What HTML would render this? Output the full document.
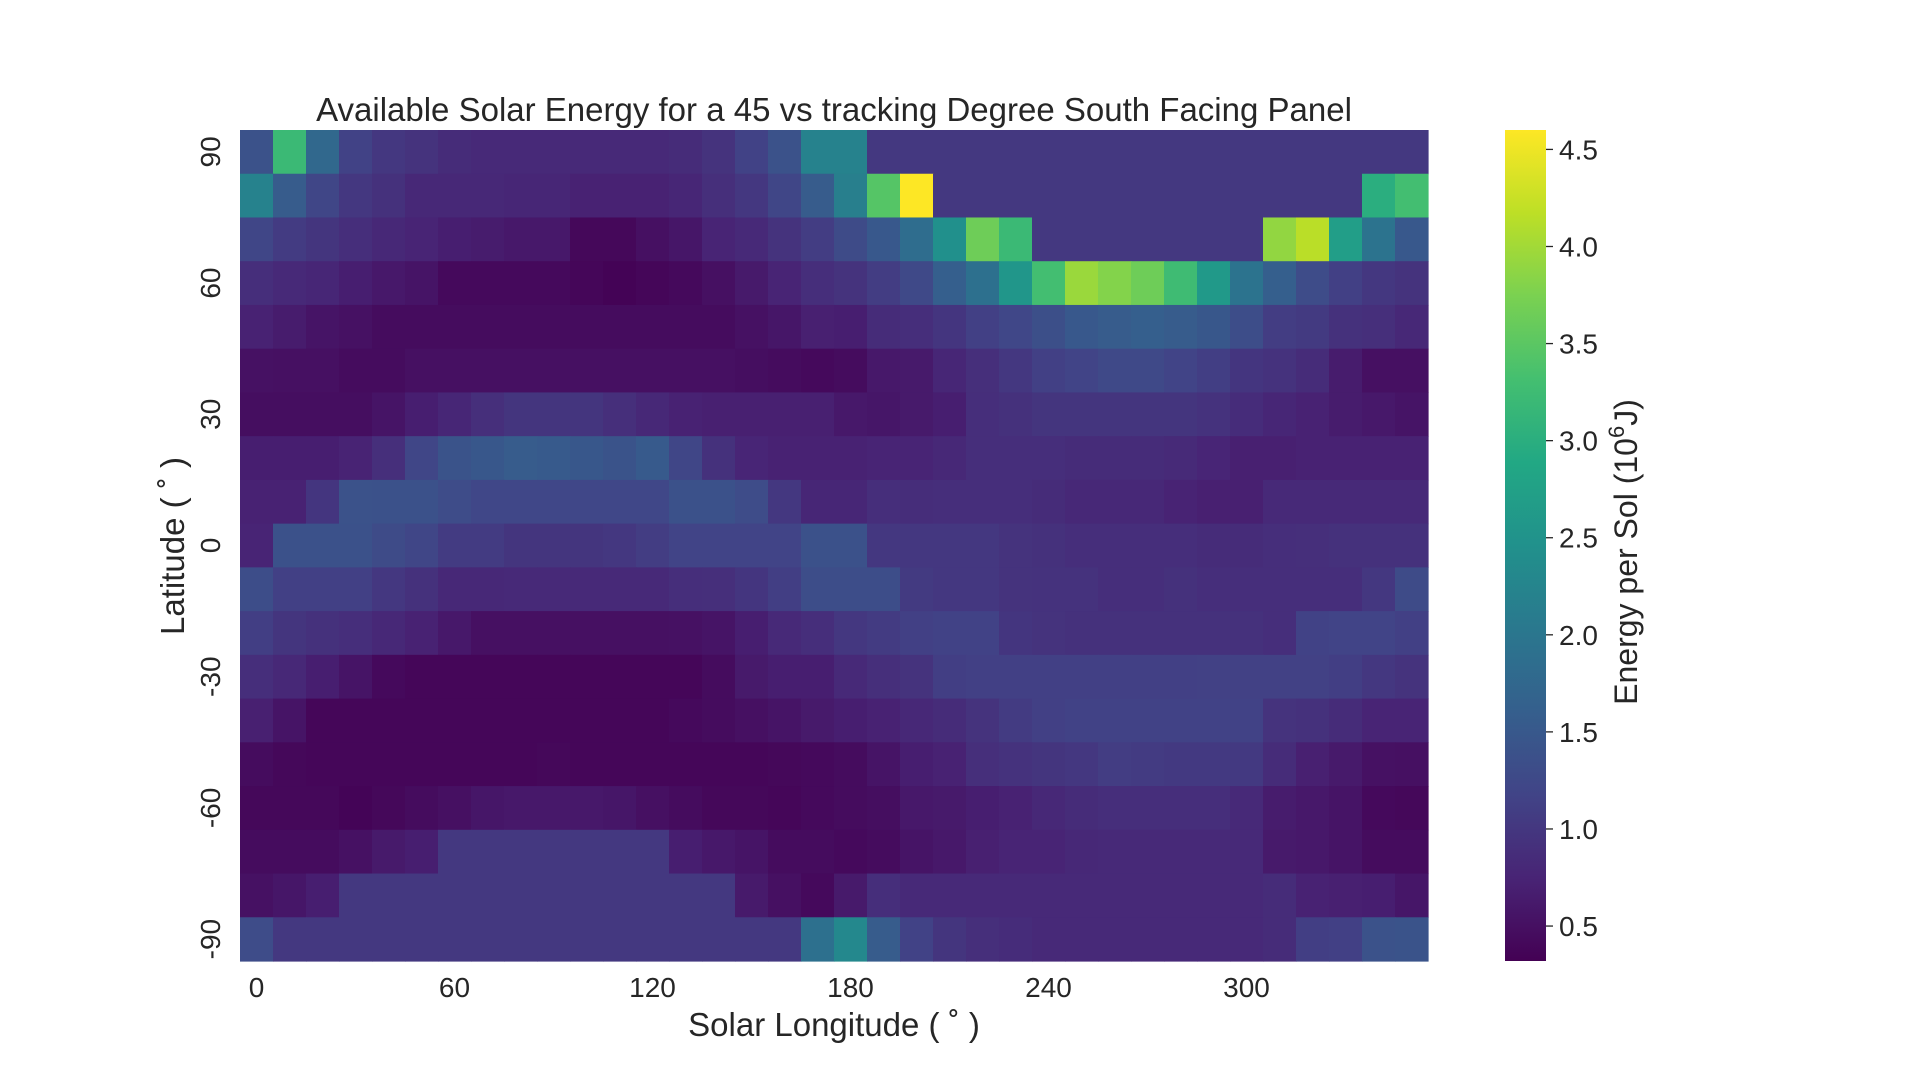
<!DOCTYPE html>
<html><head><meta charset="utf-8"><style>
html,body{margin:0;padding:0;background:#fff;}
svg{display:block;font-family:"Liberation Sans",Arial,sans-serif;}
</style></head><body>
<svg id="chart" width="1920" height="1080" viewBox="0 0 1920 1080" xmlns="http://www.w3.org/2000/svg">
<rect width="1920" height="1080" fill="#fff"/>
<text x="834" y="121" font-size="33" text-anchor="middle" fill="#262626">Available Solar Energy for a 45 vs tracking Degree South Facing Panel</text>
<g id="cells"></g>
<g id="xticks"></g>
<g id="yticks"></g>
<text x="834" y="1036" font-size="33" text-anchor="middle" fill="#262626">Solar Longitude ( ˚ )</text>
<text transform="translate(184,546) rotate(-90)" font-size="33" text-anchor="middle" fill="#262626">Latitude ( ˚ )</text>
<defs><linearGradient id="vir" x1="0" y1="1" x2="0" y2="0"></linearGradient></defs>
<rect id="cbar" x="1505" y="130" width="41" height="831" fill="url(#vir)"/>
<g id="cticks"></g>
<text transform="translate(1637,552) rotate(-90)" font-size="32" text-anchor="middle" fill="#262626">Energy per Sol (10<tspan dy="-13" font-size="22">6</tspan><tspan dy="13">J)</tspan></text>
</svg>
<script>
const longitudes = [0,10,20,30,40,50,60,70,80,90,100,110,120,130,140,150,160,170,180,190,200,210,220,230,240,250,260,270,280,290,300,310,320,330,340,350];
const latitudes = [90,80,70,60,50,40,30,20,10,0,-10,-20,-30,-40,-50,-60,-70,-80,-90];
const xTickLabels = [0,60,120,180,240,300];
const yTickLabels = [90,60,30,0,-30,-60,-90];
const colorbarTicks = [0.5,1.0,1.5,2.0,2.5,3.0,3.5,4.0,4.5];
const row90 = [1.4,3.2,1.75,1.15,1.0,0.95,0.85,0.82,0.82,0.82,0.82,0.82,0.82,0.85,0.95,1.15,1.4,2.2,2.2,1.02,1.02,1.02,1.02,1.02,1.02,1.02,1.02,1.02,1.02,1.02,1.02,1.02,1.02,1.02,1.02,1.02];
const row80 = [2.2,1.55,1.2,1.0,0.92,0.8,0.8,0.8,0.78,0.78,0.72,0.72,0.72,0.78,0.9,1.0,1.2,1.55,2.15,3.45,4.6,1.02,1.02,1.02,1.02,1.02,1.02,1.02,1.02,1.02,1.02,1.02,1.02,1.02,3.0,3.3];
const row70 = [1.2,1.05,0.97,0.88,0.8,0.75,0.68,0.65,0.6,0.6,0.4,0.4,0.5,0.58,0.75,0.82,0.95,1.08,1.28,1.5,1.85,2.45,3.65,3.2,1.02,1.02,1.02,1.02,1.02,1.02,1.02,3.9,4.15,2.7,1.95,1.5];
const row60 = [0.88,0.82,0.78,0.68,0.6,0.55,0.42,0.42,0.42,0.42,0.38,0.35,0.38,0.42,0.5,0.62,0.75,0.88,0.95,1.08,1.25,1.6,1.9,2.55,3.3,3.95,3.8,3.65,3.25,2.6,1.95,1.6,1.3,1.12,1.0,0.95];
const row50 = [0.72,0.65,0.55,0.52,0.45,0.45,0.45,0.45,0.45,0.45,0.45,0.45,0.45,0.45,0.45,0.52,0.58,0.7,0.68,0.85,0.88,0.98,1.12,1.22,1.35,1.5,1.55,1.6,1.55,1.48,1.32,1.08,1.04,0.92,0.9,0.8];
const row40 = [0.52,0.5,0.5,0.45,0.45,0.5,0.5,0.5,0.5,0.5,0.5,0.5,0.5,0.5,0.5,0.48,0.45,0.42,0.45,0.6,0.62,0.78,0.9,1.0,1.12,1.18,1.25,1.25,1.18,1.1,0.98,0.93,0.85,0.65,0.5,0.5];
const row30 = [0.48,0.48,0.48,0.48,0.55,0.68,0.78,0.9,0.97,0.97,0.97,0.9,0.8,0.72,0.7,0.7,0.7,0.7,0.6,0.58,0.62,0.68,0.88,0.92,0.97,0.97,0.97,0.97,0.97,0.94,0.86,0.78,0.72,0.65,0.6,0.55];
const row20 = [0.68,0.68,0.68,0.74,0.9,1.2,1.42,1.48,1.55,1.52,1.48,1.42,1.52,1.2,0.92,0.76,0.72,0.72,0.72,0.75,0.75,0.8,0.88,0.88,0.88,0.85,0.85,0.85,0.83,0.76,0.7,0.7,0.72,0.72,0.72,0.72];
const row10 = [0.72,0.72,0.98,1.4,1.38,1.38,1.3,1.22,1.22,1.22,1.22,1.22,1.22,1.38,1.38,1.3,1.0,0.78,0.78,0.88,0.87,0.88,0.88,0.88,0.85,0.8,0.8,0.8,0.74,0.7,0.7,0.82,0.82,0.82,0.82,0.82];
const row0 = [0.75,1.38,1.38,1.38,1.28,1.2,1.05,1.05,0.97,0.97,0.97,1.0,1.08,1.18,1.18,1.18,1.18,1.38,1.38,1.0,1.0,1.0,1.0,0.95,0.92,0.88,0.88,0.88,0.88,0.85,0.85,0.88,0.9,0.92,0.92,0.92];
const rowS10 = [1.32,1.12,1.12,1.12,1.0,0.92,0.8,0.8,0.82,0.82,0.82,0.82,0.82,0.88,0.9,0.98,1.1,1.32,1.32,1.32,1.04,1.0,1.0,0.95,0.93,0.93,0.88,0.88,0.92,0.88,0.88,0.88,0.88,0.88,1.0,1.28];
const rowS20 = [1.1,0.97,0.92,0.88,0.8,0.72,0.6,0.5,0.5,0.5,0.5,0.5,0.5,0.52,0.55,0.68,0.82,0.88,1.0,1.05,1.12,1.15,1.15,0.98,0.95,0.92,0.92,0.92,0.92,0.92,0.92,0.88,1.15,1.17,1.17,1.12];
const rowS30 = [0.88,0.8,0.68,0.55,0.42,0.38,0.38,0.38,0.38,0.38,0.38,0.38,0.38,0.38,0.45,0.62,0.68,0.68,0.82,0.9,0.95,1.1,1.12,1.12,1.12,1.12,1.12,1.12,1.12,1.14,1.14,1.14,1.14,1.1,1.0,0.95];
const rowS40 = [0.7,0.55,0.38,0.38,0.38,0.38,0.38,0.38,0.38,0.38,0.38,0.38,0.38,0.42,0.45,0.5,0.55,0.62,0.68,0.72,0.8,0.85,0.95,1.05,1.12,1.15,1.15,1.15,1.15,1.15,1.15,0.95,0.92,0.85,0.75,0.75];
const rowS50 = [0.45,0.4,0.38,0.38,0.38,0.38,0.38,0.38,0.38,0.4,0.38,0.38,0.38,0.38,0.38,0.38,0.4,0.42,0.45,0.55,0.68,0.72,0.9,0.94,0.97,1.0,1.08,1.05,1.03,1.03,1.03,0.85,0.7,0.62,0.52,0.5];
const rowS60 = [0.4,0.4,0.4,0.36,0.4,0.45,0.5,0.58,0.6,0.6,0.6,0.58,0.5,0.45,0.4,0.4,0.38,0.42,0.45,0.48,0.6,0.62,0.68,0.72,0.8,0.85,0.88,0.88,0.88,0.88,0.82,0.65,0.6,0.55,0.42,0.4];
const rowS70 = [0.45,0.45,0.45,0.52,0.62,0.68,1.02,1.02,1.02,1.02,1.02,1.02,1.02,0.68,0.6,0.55,0.45,0.45,0.42,0.45,0.55,0.6,0.7,0.75,0.75,0.8,0.82,0.82,0.82,0.82,0.82,0.62,0.6,0.55,0.45,0.45];
const rowS80 = [0.52,0.58,0.68,1.02,1.02,1.02,1.02,1.02,1.02,1.02,1.02,1.02,1.02,1.02,1.02,0.62,0.5,0.42,0.62,0.88,0.82,0.82,0.82,0.82,0.82,0.82,0.82,0.82,0.82,0.82,0.82,0.85,0.72,0.7,0.68,0.58];
const rowS90 = [1.3,1.02,1.02,1.02,1.02,1.02,1.02,1.02,1.02,1.02,1.02,1.02,1.02,1.02,1.02,1.02,1.02,1.9,2.3,1.55,1.15,0.97,0.9,0.86,0.82,0.82,0.82,0.82,0.82,0.82,0.82,0.85,1.1,1.12,1.4,1.42];
const energyRows = [row90,row80,row70,row60,row50,row40,row30,row20,row10,row0,rowS10,rowS20,rowS30,rowS40,rowS50,rowS60,rowS70,rowS80,rowS90];

const NS='http://www.w3.org/2000/svg';
const vmin=0.32, vmax=4.6;
const stops=['#440154','#482475','#414487','#355f8d','#2a788e','#21918c','#22a884','#44bf70','#7ad151','#bddf26','#fde725'];
function hex(h){return [1,3,5].map(i=>parseInt(h.substr(i,2),16));}
function viridis(t){t=Math.max(0,Math.min(1,t));const p=t*10,i=Math.min(9,Math.floor(p)),f=p-i;const a=hex(stops[i]),b=hex(stops[i+1]);return 'rgb('+a.map((v,k)=>Math.round(v+(b[k]-v)*f)).join(',')+')';}
const X0=240,X1=1428,Y0=130,Y1=961;
const cw=(X1-X0)/longitudes.length, rh=(Y1-Y0)/latitudes.length;
function xPos(i){return X0+i*cw;}
function yPos(j){return Y0+j*rh;}
function cbY(v){return Y1-(v-vmin)/(vmax-vmin)*(Y1-Y0);}
const cells=document.getElementById('cells');
energyRows.forEach((row,j)=>{row.forEach((v,i)=>{
  const r=document.createElementNS(NS,'rect');
  r.setAttribute('x',xPos(i));r.setAttribute('y',yPos(j));
  r.setAttribute('width',cw+0.6);r.setAttribute('height',rh+0.6);
  r.setAttribute('fill',viridis((v-vmin)/(vmax-vmin)));
  
  
  cells.appendChild(r);});});
const xt=document.getElementById('xticks');
xTickLabels.forEach(l=>{const i=longitudes.indexOf(l);
  const t=document.createElementNS(NS,'text');
  t.setAttribute('x',xPos(i)+cw/2);t.setAttribute('y',997);
  t.setAttribute('font-size','28');t.setAttribute('text-anchor','middle');t.setAttribute('fill','#262626');
  
  
  t.textContent=l;xt.appendChild(t);});
const yt=document.getElementById('yticks');
yTickLabels.forEach(l=>{const j=latitudes.indexOf(l);
  const t=document.createElementNS(NS,'text');
  t.setAttribute('transform','translate(220,'+(yPos(j)+rh/2)+') rotate(-90)');
  t.setAttribute('font-size','28');t.setAttribute('text-anchor','middle');t.setAttribute('fill','#262626');
  
  
  t.textContent=l;yt.appendChild(t);});
const g=document.getElementById('vir');
stops.forEach((c,k)=>{const s=document.createElementNS(NS,'stop');s.setAttribute('offset',k/10);s.setAttribute('stop-color',c);g.appendChild(s);});
const ct=document.getElementById('cticks');
colorbarTicks.forEach(v=>{const y=cbY(v);
  const ln=document.createElementNS(NS,'line');
  ln.setAttribute('x1',1546);ln.setAttribute('x2',1553);ln.setAttribute('y1',y);ln.setAttribute('y2',y);
  ln.setAttribute('stroke','#262626');ln.setAttribute('stroke-width','1.3');
  
  
  ct.appendChild(ln);
  const t=document.createElementNS(NS,'text');
  t.setAttribute('x',1559);t.setAttribute('y',y+10);
  t.setAttribute('font-size','28');t.setAttribute('fill','#262626');
  
  
  t.textContent=v.toFixed(1);ct.appendChild(t);});
</script>
</body></html>
